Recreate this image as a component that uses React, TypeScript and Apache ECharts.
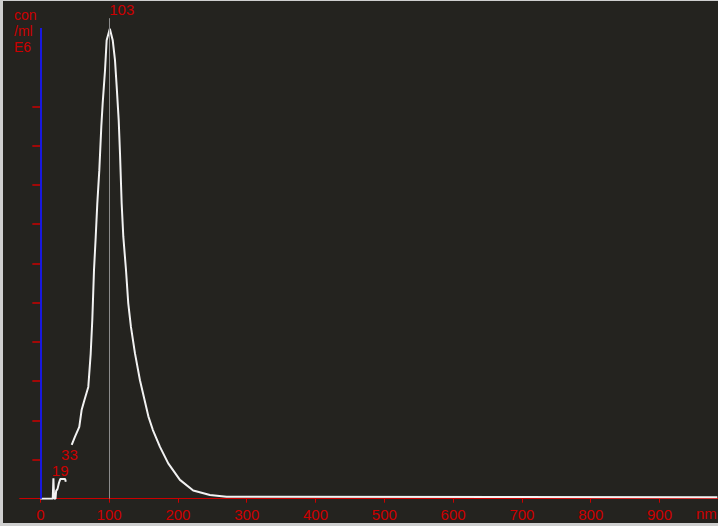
import React, { useEffect, useRef } from "react";
import * as echarts from "echarts";

// Particle size (nm) and concentration (E6 particles / ml)
const sizeNm = [
  0, 18, 19, 20, 22, 23, 25, 27, 29, 33, 36, 37, 40,
  45.6, 50.4, 56.6, 60, 64, 69.7, 73.2, 75.5, 78, 80.5, 82.8, 85.7, 88.6, 90.6, 94, 96.4,
  101,
  105.2, 108.5, 111, 113.9, 115.8, 118.2, 120.6, 124.5, 127.8, 131.7, 137.5, 144.8, 157, 163.6,
  173.9, 185.9, 202.9, 222.2, 246.5, 270.7, 984,
];
const concE6 = [
  0, 0, 0.52, 0, 0, 0.2, 0.25, 0.4, 0.5, 0.5, 0.5, 0.43, null,
  1.37, 1.58, 1.83, 2.26, 2.51, 2.85, 3.7, 4.55, 5.83, 6.68, 7.53, 8.37, 9.48, 10.08, 10.92, 11.69,
  11.98,
  11.69, 11.18, 10.5, 9.65, 8.8, 7.53, 6.68, 5.83, 4.98, 4.38, 3.71, 3.02, 2.1, 1.75,
  1.32, 0.9, 0.48, 0.21, 0.094, 0.05, 0.035,
];

const xTicks = [0, 100, 200, 300, 400, 500, 600, 700, 800, 900];
const yTicks = [1, 2, 3, 4, 5, 6, 7, 8, 9, 10];

const peakNames = ["19", "33", "103"];
const peakNm = [19, 33, 103];
const peakConc = [0.52, 0.5, 12.25];
const modeLineNm = 100;

const unitLines = ["con", "/ml", "E6"];

const X_MIN = -30;
const X_MAX = 985;
const Y_MAX = 12.25;
const Y_AXIS_TOP = 12;

const RED = "#cc0000";
const FONT = "'Liberation Sans', Arial, sans-serif";

export default function App() {
  const ref = useRef<HTMLDivElement>(null);

  useEffect(() => {
    if (!ref.current) return;
    const chart = echarts.init(ref.current, null, { renderer: "svg" });
    const data = sizeNm.map((x, i) => [x, concE6[i]]);
    const labelOffsets = [
      [-1.6, -7.8],
      [-2, -24.4],
      [-2, -8.7],
    ];
    chart.setOption({
      animation: false,
      backgroundColor: "#24231f",
      textStyle: { fontFamily: FONT },
      grid: { left: 19.7, right: 0, top: 18.2, bottom: 27.3, containLabel: false },
      xAxis: {
        type: "value",
        min: X_MIN,
        max: X_MAX,
        axisLine: { show: true, onZero: true, lineStyle: { color: RED, width: 1 } },
        axisTick: {
          show: true,
          customValues: xTicks,
          length: 4,
          lineStyle: { color: RED, width: 1 },
        },
        axisLabel: {
          show: true,
          customValues: xTicks,
          color: RED,
          fontSize: 15,
          fontFamily: FONT,
          margin: 8,
        },
        splitLine: { show: false },
      },
      yAxis: {
        type: "value",
        min: 0,
        max: Y_MAX,
        axisLine: { show: false, onZero: true },
        axisTick: {
          show: true,
          customValues: yTicks,
          length: 8,
          lineStyle: { color: RED, width: 1.5 },
        },
        axisLabel: { show: false },
        splitLine: { show: false },
      },
      series: [
        {
          type: "line",
          data,
          showSymbol: false,
          symbol: "none",
          connectNulls: false,
          lineStyle: { color: "#f2f2f2", width: 2 },
          z: 3,
          markLine: {
            silent: true,
            symbol: ["none", "none"],
            label: { show: false },
            data: [
              [
                { coord: [0, 0], lineStyle: { color: "#1818e0", width: 2, type: "solid" } },
                { coord: [0, Y_AXIS_TOP] },
              ],
              [
                { coord: [modeLineNm, 0], lineStyle: { color: "#8c8c8c", width: 1, type: "solid" } },
                { coord: [modeLineNm, Y_MAX] },
              ],
            ],
          },
          markPoint: {
            silent: true,
            symbol: "circle",
            symbolSize: 0,
            data: peakNames.map((name, i) => ({
              name,
              coord: [peakNm[i], peakConc[i]],
              label: {
                show: true,
                formatter: name,
                position: "right",
                distance: 0,
                offset: labelOffsets[i],
                color: RED,
                fontSize: 15,
                fontFamily: FONT,
              },
            })),
          },
        },
      ],
      graphic: [
        { type: "rect", left: 0, top: 0, shape: { width: 3, height: 526 }, style: { fill: "#cfcfcf" } },
        { type: "rect", left: 0, top: 0, shape: { width: 718, height: 1 }, style: { fill: "#cfcfcf" } },
        { type: "rect", left: 0, top: 523, shape: { width: 718, height: 3 }, style: { fill: "#cfcfcf" } },
        ...unitLines.map((t, i) => ({
          type: "text",
          left: 14,
          top: 8 + i * 16,
          style: { text: t, fill: RED, font: `14px ${FONT}` },
        })),
        {
          type: "text",
          left: 696,
          top: 506,
          style: { text: "nm", fill: RED, font: `15px ${FONT}` },
        },
      ],
    });
    return () => chart.dispose();
  }, []);

  return (
    <div
      ref={ref}
      style={{ position: "absolute", left: 0, top: 0, width: 718, height: 526 }}
    />
  );
}
